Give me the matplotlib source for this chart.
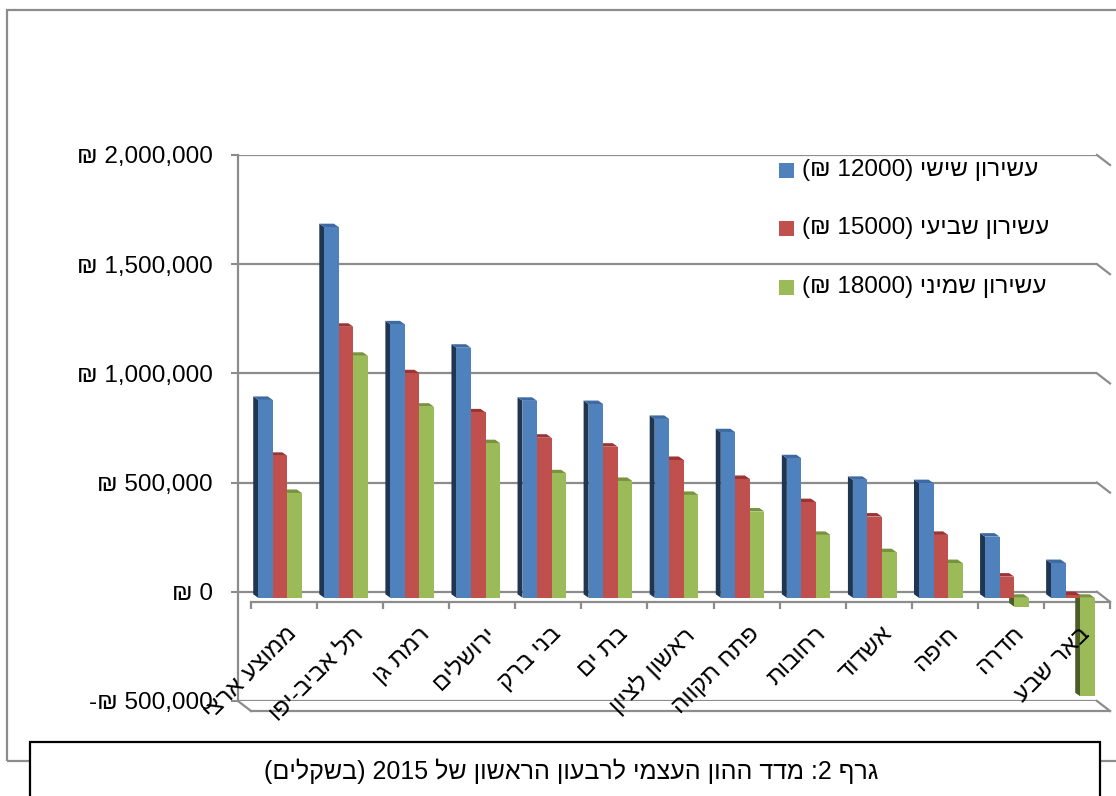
import matplotlib
matplotlib.use('Agg')
import matplotlib.pyplot as plt
from matplotlib.patches import Polygon, Rectangle
from matplotlib.lines import Line2D
from matplotlib.transforms import offset_copy, IdentityTransform

plt.rcParams['font.family'] = ['Liberation Sans', 'DejaVu Sans']

# Data (cities, logical Hebrew order)
cities = ['ממוצע ארצי', 'תל אביב-יפו', 'רמת גן', 'ירושלים', 'בני ברק', 'בת ים',
          'ראשון לציון', 'פתח תקווה', 'רחובות', 'אשדוד', 'חיפה', 'חדרה', 'באר שבע']
decile6 = [906000, 1697000, 1252000, 1145000, 902000, 887000, 819000, 758000,
           639000, 540000, 525000, 280000, 159000]
decile7 = [650000, 1241000, 1028000, 849000, 733000, 692000, 631000, 544000,
           438000, 372000, 288000, 97000, 12000]
decile8 = [480000, 1108000, 875000, 708000, 570000, 535000, 471000, 395000,
           288000, 209000, 159000, -40000, -451000]
series_names = ['עשירון שישי (12000 ₪)', 'עשירון שביעי (15000 ₪)', 'עשירון שמיני (18000 ₪)']
yticks = [-500000, 0, 500000, 1000000, 1500000, 2000000]
ytick_labels = ['-₪ 500,000', '₪ 0', '₪ 500,000', '₪ 1,000,000', '₪ 1,500,000', '₪ 2,000,000']
caption_words = ['גרף', '2:', 'מדד', 'ההון', 'העצמי', 'לרבעון', 'הראשון', 'של', '2015', '(בשקלים)']


# matplotlib has no bidi support, so the Hebrew text is laid out by hand
def legend_visual(s):
    heb, rest = s.split(' (')
    num, cur = rest.rstrip(')').split(' ')
    return '(' + cur + ' ' + num + ') ' + heb[::-1]


def caption_visual(words):
    out = []
    for w in reversed(words):
        if w[0].isdigit():
            out.append(':2' if w == '2:' else w)
        elif w.startswith('('):
            out.append('(' + w[1:-1][::-1] + ')')
        else:
            out.append(w[::-1])
    return ' '.join(out)


W, H = 1116, 796
fs = 17.5
fig = plt.figure(figsize=(W / 100, H / 100), dpi=100)
ax = fig.add_axes([238 / W, 1 - 701 / H, 859 / W, 546 / H])
ax.set_xlim(0, len(cities))
ax.set_ylim(-500000, 2000000)

grid_c = '#8c8c8c'
ax.set_axisbelow(True)
ax.yaxis.grid(True, color=grid_c, lw=1.6)
ax.set_yticks(yticks)
ax.set_yticklabels(ytick_labels, fontsize=fs)
ax.tick_params(axis='y', length=5, width=1.5, color=grid_c, pad=13)
ax.set_xticks([])
for sp in ['top', 'right', 'bottom']:
    ax.spines[sp].set_visible(False)
ax.spines['left'].set_color(grid_c)
ax.spines['left'].set_linewidth(1.6)

fig.canvas.draw()

# 3D floor / front edges
front = offset_copy(ax.transData, fig=fig, x=13, y=-10, units='dots')
ax.plot([0, len(cities)], [0, 0], color=grid_c, lw=1.6, transform=front, clip_on=False)
ax.plot([0, len(cities)], [-500000, -500000], color=grid_c, lw=1.6, transform=front, clip_on=False)
ax.plot(range(len(cities) + 1), [0] * (len(cities) + 1), ls='none', marker=3,
        markersize=5, mew=1.6, color=grid_c, transform=front, clip_on=False)
for v in yticks:
    x0, y0 = ax.transData.transform((len(cities), v))
    ax.add_line(Line2D([x0, x0 + 13], [y0, y0 - 10], color=grid_c, lw=1.6,
                       transform=IdentityTransform(), clip_on=False))
x0, y0 = ax.transData.transform((0, -500000))
ax.add_line(Line2D([x0, x0 + 13], [y0, y0 - 10], color=grid_c, lw=1.6,
                   transform=IdentityTransform(), clip_on=False))

# bars
bw = 0.22
dx, dy = 8, -6
bar_tr = offset_copy(ax.transData, fig=fig, x=dx, y=dy, units='dots')
styles = [
    (decile8, 0.735, '#9bbb59', '#77933c', '#4a5c27'),
    (decile7, 0.515, '#c0504d', '#9c3432', '#7d2a28'),
    (decile6, 0.295, '#4f81bd', '#3d6aa2', '#1f3552'),
]
z = 3
for vals, off, fc, cc, sc in styles:
    xs = [i + off for i in range(len(cities))]
    for x, v in zip(xs, vals):
        xa, ya = ax.transData.transform((x - bw / 2, 0))
        xb, yb = ax.transData.transform((x + bw / 2, v))
        xa += dx; xb += dx; ya += dy; yb += dy
        top, bot = max(ya, yb), min(ya, yb)
        side = Polygon([(xa, bot), (xa, top), (xa - 5, top + 3.5), (xa - 5, bot + 3.5)],
                       closed=True, fc=sc, ec='none', transform=IdentityTransform(),
                       clip_on=False, zorder=z)
        cap = Polygon([(xa, top), (xb, top), (xb - 5, top + 3.5), (xa - 5, top + 3.5)],
                      closed=True, fc=cc, ec='none', transform=IdentityTransform(),
                      clip_on=False, zorder=z)
        ax.add_patch(side)
        ax.add_patch(cap)
    ax.bar(xs, vals, width=bw, color=fc, lw=0, transform=bar_tr, zorder=z + 1, clip_on=False)
    z += 2

# category labels
lab_tr = offset_copy(ax.transData, fig=fig, x=15, y=-31, units='dots')
for i, c in enumerate(cities):
    ax.text(i + 0.5, 0, c[::-1], rotation=45, ha='right', va='top',
            rotation_mode='anchor', fontsize=fs, transform=lab_tr, clip_on=False, zorder=20)

# legend
leg_colors = ['#4f81bd', '#c0504d', '#9bbb59']
leg_y = [170, 228, 287]
for name, col, y in zip(series_names, leg_colors, leg_y):
    fig.patches.append(Rectangle((779 / W, 1 - (y + 7.5) / H), 15 / W, 15 / H,
                                 transform=fig.transFigure, fc=col, ec='none'))
    fig.text(802 / W, 1 - y / H, legend_visual(name), fontsize=fs, va='center', ha='left')

# outer chart frame and caption box
fig.patches.append(Rectangle((7 / W, 1 - 761 / H), 1.2, (761 - 10) / H, transform=fig.transFigure,
                             fill=False, ec=grid_c, lw=1.6))
fig.patches.append(Rectangle((30 / W, -0.05), 1070 / W, 0.05 + (796 - 742) / H,
                             transform=fig.transFigure, fc='white', ec='black', lw=1.6, zorder=30))
fig.text(571 / W, 1 - 771 / H, caption_visual(caption_words), fontsize=18, ha='center',
         va='center', zorder=31)

fig.savefig('out.png', dpi=100)
